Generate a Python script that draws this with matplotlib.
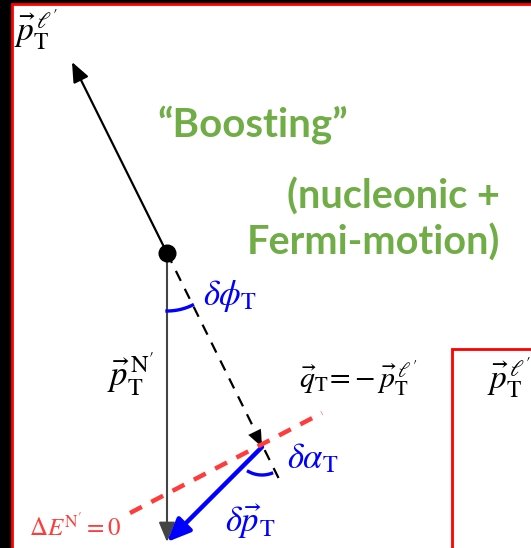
import numpy as np
import matplotlib
matplotlib.use("Agg")
from matplotlib import pyplot as plt
from matplotlib.patches import Rectangle, FancyArrowPatch

plt.rcParams['mathtext.fontset'] = 'stix'

# transverse kinematics, in canvas units (y grows downwards)
vertex = np.array([167, 253])
p_lep = np.array([-95, -191])       # outgoing lepton
p_nuc = np.array([0, 289])          # outgoing nucleon
q_t = np.array([95, 194])           # -p_lep direction, drawn to dp start
q_ext = np.array([114, 230])        # dashed line keeps going past the tip
plane = np.array([[130, 513], [322, 413]])   # Delta E = 0 line

green = '#70ad47'
blue = '#0000ff'
red = '#ff3b3b'

fig = plt.figure(figsize=(5.31, 5.48), dpi=100, facecolor='black')
ax = fig.add_axes([0, 0, 1, 1])
ax.set_xlim(0, 531)
ax.set_ylim(548, 0)
ax.axis('off')

# panel frames
ax.add_patch(Rectangle((12, 4), 560, 600, facecolor='white', edgecolor='red', lw=2))
ax.add_patch(Rectangle((452, 349), 200, 300, facecolor='white', edgecolor='red', lw=2))

lep_tip = vertex + p_lep
nuc_tip = vertex + p_nuc
q_tip = vertex + q_t
ext_end = vertex + q_ext

def arrow(a, b, color, lw, ls='-', head=12, width=5):
    ax.add_patch(FancyArrowPatch(tuple(a), tuple(b), color=color, lw=lw, ls=ls,
                                 arrowstyle=f'-|>,head_length={head/7:.2f},head_width={width/7:.2f}',
                                 shrinkA=0, shrinkB=0, mutation_scale=7))

arrow(vertex, lep_tip, 'black', 1.6)
arrow(vertex, nuc_tip, '#444444', 1.5)
ax.plot([vertex[0], ext_end[0]], [vertex[1], ext_end[1]], color='black', lw=1.6,
        dashes=(5, 4))
arrow(q_tip - q_t * 0.05, q_tip, 'black', 0.1)
ax.plot(plane[:, 0], plane[:, 1], color=red, lw=3.2, dashes=(3, 2.4))
arrow(q_tip, nuc_tip, blue, 3.2, head=14, width=6)

ax.plot(*vertex, 'o', color='black', ms=12)

# angle arcs
t = np.radians(np.linspace(64, 90, 30))
ax.plot(vertex[0] + 58 * np.cos(t), vertex[1] + 58 * np.sin(t), color=blue, lw=2.4)
t = np.radians(np.linspace(70, 119, 30))
ax.plot(q_tip[0] + 28 * np.cos(t), q_tip[1] + 28 * np.sin(t), color=blue, lw=2.4)

# labels
ax.text(36, 30, r"$\vec{p}_{\mathrm{T}}^{\,\ell'}$", fontsize=24, ha='center', va='center')
ax.text(131, 375, r"$\vec{p}_{\mathrm{T}}^{\,\mathrm{N}'}$", fontsize=25, ha='center', va='center')
ax.text(358, 378, r"$\vec{q}_{\mathrm{T}}\!=\!-\vec{p}_{\mathrm{T}}^{\,\ell'}$", fontsize=21.5,
        ha='center', va='center')
ax.text(509, 378, r"$\vec{p}_{\mathrm{T}}^{\,\ell'}$", fontsize=24, ha='center', va='center')
ax.text(230, 296, r"$\delta\phi_{\mathrm{T}}$", fontsize=25, ha='center', va='center', color=blue)
ax.text(313, 458, r"$\delta\alpha_{\mathrm{T}}$", fontsize=25, ha='center', va='center', color=blue)
ax.text(250, 522, r"$\delta\vec{p}_{\mathrm{T}}$", fontsize=25, ha='center', va='center', color=blue)
ax.text(75, 527, r"$\Delta E^{\mathrm{N}'} = 0$", fontsize=18, ha='center', va='center', color=red)

ax.text(253, 125, "\u201cBoosting\u201d", fontsize=29, fontweight='bold', family='Lato',
        color=green, ha='center', va='center')
ax.text(500, 197, "(nucleonic +", fontsize=28.5, fontweight='bold', family='Lato',
        color=green, ha='right', va='center')
ax.text(500, 243, "Fermi-motion)", fontsize=28.5, fontweight='bold', family='Lato',
        color=green, ha='right', va='center')

fig.savefig('out.png', dpi=100, facecolor='black')
